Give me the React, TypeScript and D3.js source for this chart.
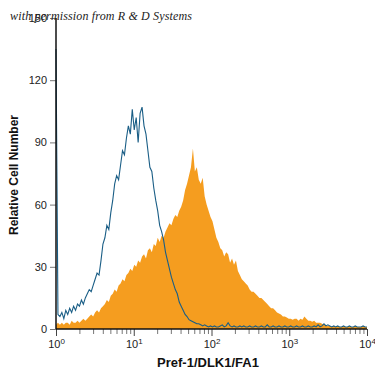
import React, { useEffect, useRef } from "react";
import * as d3 from "d3";

// histogram counts, one value per channel bin, spread evenly over 10^0 .. 10^4
const isotypeCounts = [
  135, 7, 6, 8, 5, 9, 7, 10, 8, 11,
  9, 12, 11, 14, 12, 15, 17, 19, 18, 21,
  24, 27, 26, 33, 41, 44, 50, 48, 56, 62,
  70, 74, 72, 79, 86, 84, 92, 98, 94, 106,
  96, 102, 90, 104, 107, 98, 94, 86, 78, 76,
  68, 62, 57, 50, 47, 43, 37, 33, 29, 25,
  22, 19, 17, 13, 11, 9, 7, 6, 4.5, 4,
  3.5, 3, 2.5, 2.5, 2, 1.5, 2, 1.5, 1, 1.5,
  1, 1.5, 1, 1, 1.5, 2, 1, 1.5, 3, 1.5,
  1, 1.5, 1, 1, 1.5, 1, 1.5, 1, 1, 1.5,
  1, 1, 1.5, 1, 1, 1.5, 1, 1, 2, 1,
  1, 1.5, 1, 1, 1.5, 1, 1, 1.5, 1, 1,
  1.5, 1, 1, 1.5, 1, 1, 1.5, 1, 1, 1.5,
  1, 1, 1.5, 1, 2, 1, 1.5, 2.5, 1.5, 2,
  1.5, 1, 1.5, 1, 1.5, 1, 1, 1.5, 1, 1,
  1.5, 1, 1, 1.5, 1, 1, 1, 1.5, 1, 1,
];

const stainedCounts = [
  2, 3, 2, 3, 2, 3, 3, 2, 4, 3,
  3, 4, 3, 4, 5, 4, 5, 6, 7, 6,
  8, 9, 8, 10, 11, 12, 14, 13, 16, 17,
  19, 18, 21, 22, 24, 23, 26, 27, 29, 28,
  31, 30, 33, 32, 35, 36, 34, 38, 39, 37,
  41, 40, 44, 42, 45, 44, 47, 49, 51, 50,
  53, 55, 54, 57, 59, 62, 67, 70, 74, 78,
  87, 76, 78, 72, 70, 73, 64, 60, 57, 54,
  52, 48, 44, 42, 39, 38, 35, 37, 36, 32,
  34, 31, 33, 28, 26, 24, 23, 22, 21, 19,
  18, 18, 17, 16, 15, 15, 14, 13, 12, 11,
  10, 10, 9, 8, 7.5, 7, 6, 6, 5.5, 5,
  5, 4.5, 5, 5, 4, 5, 4.5, 6, 5, 4,
  4, 3.5, 4, 3, 3, 3, 2.5, 2, 2, 1.5,
  1.5, 1, 1.5, 1, 1.5, 1, 1, 1.5, 1, 1,
  1.5, 1, 1, 1.5, 1, 1, 1, 1.5, 1, 1,
];

const yTicks = [0, 30, 60, 90, 120, 150];
const decades = [0, 1, 2, 3, 4];

function FlowHistogram({ width = 375, height = 375 }) {
  const svgRef = useRef(null);

  useEffect(() => {
    const svg = d3.select(svgRef.current);
    svg.selectAll("*").remove();
    svg.attr("width", width).attr("height", height);

    const x = d3.scaleLog().domain([1, 1e4]).range([56, 367]);
    const y = d3.scaleLinear().domain([0, 150]).range([329, 18]);

    const n = stainedCounts.length;
    const binX = (i) => x(Math.pow(10, (i * 4) / (n - 1)));

    // filled histogram (stained cells)
    const area = d3
      .area()
      .x((d, i) => binX(i))
      .y0(y(0))
      .y1((d) => y(d))
      .curve(d3.curveLinear);
    svg.append("path").datum(stainedCounts).attr("d", area).attr("fill", "#f59d1f");

    // outline histogram (isotype control)
    const line = d3
      .line()
      .x((d, i) => binX(i))
      .y((d) => y(d));
    svg
      .append("path")
      .datum(isotypeCounts)
      .attr("d", line)
      .attr("fill", "none")
      .attr("stroke", "#1a5e86")
      .attr("stroke-width", 1.1);

    // y axis
    const yAxis = svg
      .append("g")
      .attr("transform", "translate(56,0)")
      .call(d3.axisLeft(y).tickValues(yTicks).tickSize(6).tickPadding(3));
    yAxis.select(".domain").remove();
    yAxis.selectAll("line").attr("stroke", "#777");
    yAxis
      .selectAll("text")
      .style("font-family", "Liberation Sans, Arial, sans-serif")
      .style("font-size", "11px")
      .attr("fill", "#222");

    // x axis: minor ticks
    const minor = [];
    for (let e = 0; e < 4; e++) for (let k = 2; k < 10; k++) minor.push(k * Math.pow(10, e));
    const xMinor = svg
      .append("g")
      .attr("transform", "translate(0,329)")
      .call(d3.axisBottom(x).tickValues(minor).tickSize(5).tickFormat(() => ""));
    xMinor.select(".domain").remove();
    xMinor.selectAll("line").attr("stroke", "#777");

    // x axis: decades with superscript labels
    const xMajor = svg
      .append("g")
      .attr("transform", "translate(0,329)")
      .call(
        d3
          .axisBottom(x)
          .tickValues(decades.map((e) => Math.pow(10, e)))
          .tickSize(7)
          .tickPadding(4)
          .tickFormat(() => "")
      );
    xMajor.select(".domain").remove();
    xMajor.selectAll("line").attr("stroke", "#444");
    xMajor
      .selectAll(".tick text")
      .style("font-family", "Liberation Sans, Arial, sans-serif")
      .style("font-size", "11px")
      .attr("fill", "#222")
      .each(function (d) {
        const t = d3.select(this);
        t.append("tspan").text("10");
        t.append("tspan")
          .attr("dy", "-0.45em")
          .style("font-size", "8px")
          .text(Math.round(Math.log10(d)));
      });

    // axis lines
    svg
      .append("line")
      .attr("x1", 56)
      .attr("x2", 56)
      .attr("y1", y(150))
      .attr("y2", y(0))
      .attr("stroke", "#111")
      .attr("stroke-width", 1.5);
    svg
      .append("line")
      .attr("x1", 56)
      .attr("x2", 367)
      .attr("y1", y(0))
      .attr("y2", y(0))
      .attr("stroke", "#111")
      .attr("stroke-width", 1.5);

    // axis titles
    svg
      .append("text")
      .attr("x", 208)
      .attr("y", 367)
      .attr("text-anchor", "middle")
      .style("font-family", "Liberation Sans, Arial, sans-serif")
      .style("font-size", "13px")
      .style("font-weight", "bold")
      .attr("fill", "#111")
      .text("Pref-1/DLK1/FA1");
    svg
      .append("text")
      .attr("transform", "translate(18,175) rotate(-90)")
      .attr("text-anchor", "middle")
      .style("font-family", "Liberation Sans, Arial, sans-serif")
      .style("font-size", "12px")
      .style("font-weight", "bold")
      .attr("fill", "#111")
      .text("Relative Cell Number");

    // watermark
    svg
      .append("text")
      .attr("x", 10)
      .attr("y", 20)
      .attr("textLength", 182)
      .style("font-family", "Liberation Serif, DejaVu Serif, serif")
      .style("font-style", "italic")
      .style("font-size", "12px")
      .attr("fill", "#222")
      .text("with permission from R & D Systems");
  }, [width, height]);

  return <svg ref={svgRef} style={{ position: "absolute", left: 0, top: 0 }} />;
}

export default function App() {
  return <FlowHistogram />;
}
